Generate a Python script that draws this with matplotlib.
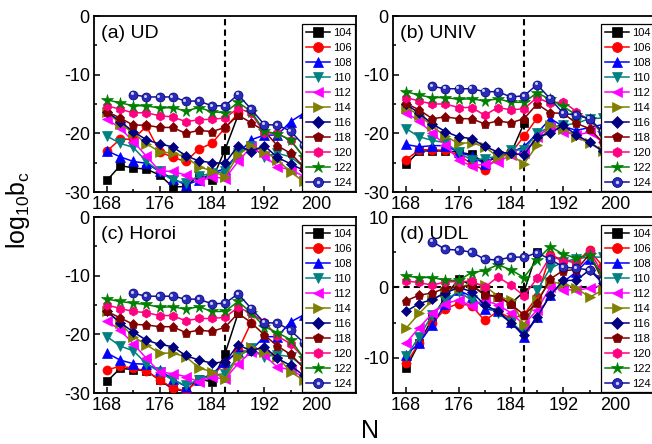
import numpy as np
import matplotlib
matplotlib.use("Agg")
import matplotlib.pyplot as plt
import matplotlib.transforms as mtransforms
from matplotlib.ticker import MultipleLocator
from matplotlib.legend_handler import HandlerTuple

plt.rcParams['font.family'] = ['Liberation Sans', 'DejaVu Sans']
plt.rcParams['mathtext.default'] = 'regular'
plt.rcParams['axes.unicode_minus'] = False

nan = np.nan

# neutron number
N = [168, 170, 172, 174, 176, 178, 180, 182, 184, 186, 188, 190, 192, 194, 196, 198, 200]
Z = [104, 106, 108, 110, 112, 114, 116, 118, 120, 122, 124]

# (a) UD
a104 = [-28.0, -25.5, -25.9, -26.1, -27.1, -29.1, -29.1, -27.2, -28.0, -22.8, -16.9, nan, nan, nan, nan, nan, nan]
a106 = [-23.0, -21.0, -21.0, -18.8, -23.1, -24.1, -24.8, -22.7, -21.7, -19.1, -16.6, nan, nan, nan, nan, nan, nan]
a108 = [-23.0, -24.0, -24.8, -25.1, -26.5, -27.7, -28.8, -28.0, -26.8, -26.0, -23.5, -21.1, -20.3, -20.3, -18.0, -16.6, -15.0]
a110 = [-20.5, -21.7, -22.4, -24.8, -26.5, -28.0, -28.4, -27.3, -26.8, -26.5, -23.4, -22.1, -24.0, -23.4, -24.0, -25.7, -27.0]
a112 = [-17.6, -19.1, -21.4, -23.9, -26.4, -26.5, -27.1, -28.2, -27.4, -27.7, -24.8, -22.3, -23.8, -25.7, -26.2, -27.3, -28.5]
a114 = [-16.3, -18.4, -19.9, -21.8, -23.1, -23.4, -24.0, -25.7, -26.4, -27.4, -23.7, -22.1, -23.1, -24.5, -26.6, -28.2, -29.0]
a116 = [-16.3, -18.0, -19.7, -21.1, -21.8, -22.3, -23.8, -24.7, -25.0, -25.1, -22.1, -23.1, -22.1, -24.1, -25.2, -26.3, -27.5]
a118 = [-16.3, -17.4, -18.6, -18.6, -19.0, -19.0, -20.0, -19.5, -19.7, -19.0, -16.9, -18.2, -19.6, -22.1, -23.4, -25.7, -27.0]
a120 = [-15.3, -15.9, -16.5, -16.5, -17.0, -17.2, -18.0, -17.7, -17.6, -17.4, -15.7, -16.6, -19.9, -20.0, -21.2, -24.0, -26.0]
a122 = [-14.3, -14.8, -15.3, -15.3, -15.7, -15.6, -16.2, -15.6, -16.3, -16.5, -14.7, -16.3, -19.6, -20.1, -21.1, -24.0, -26.0]
a124 = [nan, nan, -13.4, -13.8, -13.8, -13.8, -14.5, -14.5, -15.3, -15.3, -13.4, -15.9, -18.5, -18.6, -19.6, -22.0, -24.0]

# (b) UNIV
b104 = [-25.3, -23.0, -23.0, -23.0, -23.2, -23.6, -25.0, -24.0, -23.4, -18.3, nan, nan, nan, nan, nan, nan, nan]
b106 = [-24.5, -22.8, -22.8, -22.9, -23.7, -25.2, -26.3, -24.0, -23.4, -20.5, -17.4, nan, nan, nan, nan, nan, nan]
b108 = [-21.9, -22.3, -22.1, -22.1, -23.2, -23.9, -25.2, -23.6, -23.2, -22.3, -20.0, -17.5, -18.8, -19.5, -19.0, -18.5, -19.5]
b110 = [-19.2, -20.6, -21.2, -21.6, -23.2, -24.6, -24.3, -23.9, -22.9, -22.8, -20.0, -18.9, -18.6, -18.3, -17.5, -17.4, -19.0]
b112 = [-16.5, -17.9, -20.0, -22.0, -24.5, -25.6, -25.2, -24.9, -23.7, -23.4, -20.6, -18.9, -19.7, -20.3, -19.8, -21.5, -23.0]
b114 = [-15.6, -16.9, -18.8, -20.5, -21.7, -21.6, -22.3, -24.0, -23.7, -25.2, -22.0, -18.6, -19.2, -20.6, -21.7, -23.0, -24.5]
b116 = [-15.0, -16.6, -18.4, -19.7, -20.6, -20.9, -22.2, -23.2, -23.4, -23.7, -20.6, -20.0, -18.6, -20.3, -21.5, -23.0, -24.0]
b118 = [-14.9, -16.0, -17.5, -17.2, -17.5, -17.5, -18.4, -17.9, -18.2, -17.5, -15.0, -16.5, -16.6, -18.3, -19.2, -21.5, -23.0]
b120 = [-13.9, -14.5, -15.0, -15.0, -15.6, -15.6, -16.9, -15.6, -16.0, -15.8, -13.9, -14.9, -14.6, -16.3, -17.8, -20.0, -22.0]
b122 = [-12.9, -13.5, -13.9, -13.9, -14.2, -14.1, -14.5, -14.1, -14.7, -14.7, -13.1, -14.2, -15.4, -16.9, -17.5, -20.0, -22.0]
b124 = [nan, nan, -12.0, -12.4, -12.4, -12.4, -12.9, -12.9, -13.8, -13.6, -11.7, -14.1, -16.6, -16.9, -17.5, -19.7, -21.5]

# (c) Horoi
c104 = [-28.0, -25.8, -26.0, -26.2, -27.8, -29.3, -29.7, -27.6, -28.1, -23.3, -16.4, nan, nan, nan, nan, nan, nan]
c106 = [-26.1, -25.4, -25.8, -26.2, -27.8, -29.1, -29.7, -27.8, -27.0, -25.0, -22.7, -18.0, nan, nan, nan, nan, nan]
c108 = [-23.2, -24.4, -25.0, -25.1, -26.1, -27.6, -28.9, -27.7, -26.8, -24.7, -23.0, -22.7, -20.4, -20.4, -17.9, -16.7, -15.0]
c110 = [-20.4, -22.0, -22.8, -25.0, -26.4, -27.8, -28.7, -27.7, -27.0, -26.7, -23.8, -22.4, -23.8, -23.5, -23.8, -25.5, -27.0]
c112 = [-17.7, -19.3, -21.6, -24.1, -26.4, -26.7, -27.2, -28.1, -27.3, -27.6, -25.0, -23.0, -23.6, -25.6, -26.0, -27.3, -28.5]
c114 = [-16.1, -18.1, -20.4, -21.8, -23.2, -23.2, -23.8, -25.7, -26.4, -27.6, -23.8, -22.1, -23.0, -23.8, -26.4, -27.8, -29.0]
c116 = [-16.1, -18.0, -19.6, -21.0, -21.7, -22.1, -23.6, -24.4, -24.9, -24.7, -21.8, -22.8, -22.1, -24.1, -25.3, -27.0, -28.0]
c118 = [-16.1, -17.2, -18.3, -18.4, -18.7, -18.7, -19.7, -19.3, -19.5, -18.8, -16.4, -18.0, -20.1, -22.0, -23.4, -25.7, -27.0]
c120 = [-15.0, -15.6, -16.1, -16.3, -16.8, -16.8, -17.7, -17.3, -17.3, -17.1, -15.4, -16.4, -17.9, -20.3, -21.6, -24.0, -26.0]
c122 = [-14.0, -14.4, -14.7, -14.9, -15.4, -15.3, -15.7, -15.3, -16.1, -16.1, -14.4, -16.3, -18.7, -19.7, -20.9, -24.0, -26.0]
c124 = [nan, nan, -13.0, -13.5, -13.5, -13.5, -14.0, -14.0, -14.8, -14.7, -13.1, -15.6, -18.0, -18.1, -19.3, -21.4, -23.5]

# (d) UDL
d104 = [-11.5, -7.9, -4.4, -1.3, 1.2, 0.3, -1.0, -1.3, -2.3, -0.6, 5.0, nan, nan, nan, nan, nan, nan]
d106 = [-10.8, -7.9, -5.1, -3.0, -2.3, -2.6, -4.7, -3.4, -4.4, -3.9, -1.3, 4.6, 3.9, 3.6, 5.3, 3.0, 1.0]
d108 = [-9.6, -7.9, -5.3, -2.3, -0.4, -1.3, -3.0, -3.4, -4.9, -7.0, -4.2, -1.1, 0.8, 2.2, 4.1, 2.0, 0.5]
d110 = [-9.8, -7.0, -3.9, -1.8, -0.6, -1.8, -2.5, -3.7, -4.9, -6.5, -0.4, 2.7, 3.6, 4.1, 4.3, 4.3, 3.0]
d112 = [-7.9, -5.7, -3.7, -2.3, -1.8, -2.6, -1.8, -2.5, -3.6, -5.3, -3.2, 0.0, -0.3, -0.4, -0.1, 0.3, -0.5]
d114 = [-5.8, -3.7, -1.8, -0.6, -0.1, 0.6, 0.3, -1.3, -1.8, -5.3, -1.8, 0.8, 0.5, -0.1, -1.4, -0.4, -1.0]
d116 = [-3.4, -2.3, -1.7, -0.8, 0.0, -0.6, -2.5, -3.4, -5.1, -6.7, -4.2, -1.1, 1.0, 1.0, 2.5, 0.6, -0.5]
d118 = [-1.9, -1.1, -0.8, -0.1, 0.0, 0.3, -1.1, -1.3, -2.4, -3.9, -2.2, 1.2, 2.4, 2.5, 4.7, 1.0, 0.0]
d120 = [0.9, 0.7, 0.3, 0.8, 0.8, 0.9, 0.0, 1.5, 0.3, -1.2, 1.3, 4.4, 3.8, 3.5, 5.2, 2.0, 0.5]
d122 = [1.6, 1.4, 1.4, 1.0, 1.0, 2.1, 2.4, 3.2, 2.5, 1.4, 3.9, 5.8, 4.7, 4.2, 4.6, 1.5, 0.5]
d124 = [nan, nan, 6.5, 5.4, 5.3, 5.0, 4.0, 3.9, 4.3, 4.3, 4.9, 4.0, 2.9, 2.7, 2.5, 1.0, 0.0]

titles = ['(a) UD', '(b) UNIV', '(c) Horoi', '(d) UDL']
panels = [
    [a104, a106, a108, a110, a112, a114, a116, a118, a120, a122, a124],
    [b104, b106, b108, b110, b112, b114, b116, b118, b120, b122, b124],
    [c104, c106, c108, c110, c112, c114, c116, c118, c120, c122, c124],
    [d104, d106, d108, d110, d112, d114, d116, d118, d120, d122, d124],
]

# Origin-like styles
colors = ['#000000', '#ff0000', '#0000ff', '#008080', '#ff00ff', '#808000',
          '#000080', '#800000', '#ff0080', '#008000', '#2a2ab8']
markers = ['s', 'o', '^', 'v', '<', '>', 'D', 'p', 'h', '*', 'o']
msizes = [6, 6.5, 6.5, 6.5, 6.5, 6.5, 5.5, 6.5, 6.5, 8.5, 6.5]

fig = plt.figure(figsize=(6.52, 4.44), dpi=100)
W, H = 652.0, 444.0
boxes = [(94, 16), (393, 16), (94, 217), (393, 217)]  # left, top in px
aw, ah = 262, 176

for k in range(4):
    x0, y0 = boxes[k]
    ax = fig.add_axes([x0 / W, 1 - (y0 + ah) / H, aw / W, ah / H])
    shifted = mtransforms.offset_copy(ax.transData, fig=fig, x=-0.9, y=0.9, units='points')
    handles = []
    for i in range(11):
        y = np.array(panels[k][i], dtype=float)
        ok = ~np.isnan(y)
        x = np.array(N)[ok]
        l, = ax.plot(x, y[ok], '-', color=colors[i] if i < 10 else '#1010a0', marker=markers[i],
                     ms=msizes[i], mfc=colors[i], mec=colors[i] if i < 10 else '#000070',
                     mew=0.5, lw=1.1, zorder=3 + i * 0.1)
        if i == 10:
            # highlight for the ball marker
            hl, = ax.plot(x, y[ok], ls='none', marker='o', ms=2.2, mfc='#c8d0ff', mec='none',
                          transform=shifted, zorder=3 + i * 0.1 + 0.05)
            handles.append((l, hl))
        else:
            handles.append(l)

    ax.axvline(186, color='k', lw=1.5, ls=(0, (3, 2)), zorder=2)
    if k == 3:
        ax.axhline(0, color='k', lw=1.5, ls=(0, (3, 2)), zorder=2)
        ax.set_ylim(-15, 10)
    else:
        ax.set_ylim(-30, 0)
    ax.yaxis.set_major_locator(MultipleLocator(10))
    ax.yaxis.set_minor_locator(MultipleLocator(5))
    ax.set_xlim(166, 206)
    ax.xaxis.set_major_locator(MultipleLocator(8))
    ax.xaxis.set_minor_locator(MultipleLocator(4))

    ax.tick_params(which='both', direction='in', labelsize=13, width=1.1, pad=3)
    ax.tick_params(which='major', length=4.5)
    ax.tick_params(which='minor', length=2.5)
    for s in ax.spines.values():
        s.set_linewidth(1.3)

    ax.text(0.025, 0.9, titles[k], transform=ax.transAxes, fontsize=14, va='center', ha='left')

    leg = ax.legend(handles, [str(z) for z in Z], loc='lower right', bbox_to_anchor=(1, 0),
                    borderaxespad=0.1, fontsize=8, handlelength=2.2, handletextpad=0.25,
                    labelspacing=0.45, borderpad=0.3, frameon=True, fancybox=False,
                    framealpha=1, edgecolor='k', markerscale=1.1,
                    handler_map={tuple: HandlerTuple(ndivide=1)})
    leg.get_frame().set_linewidth(0.9)
    leg.set_zorder(10)

fig.text(0.028, 0.527, r'log$_{10}$b$_c$', rotation=90, fontsize=18, ha='center', va='center')
fig.text(0.5675, 0.003, 'N', fontsize=18, ha='center', va='bottom')

fig.savefig('out.png', dpi=100)
